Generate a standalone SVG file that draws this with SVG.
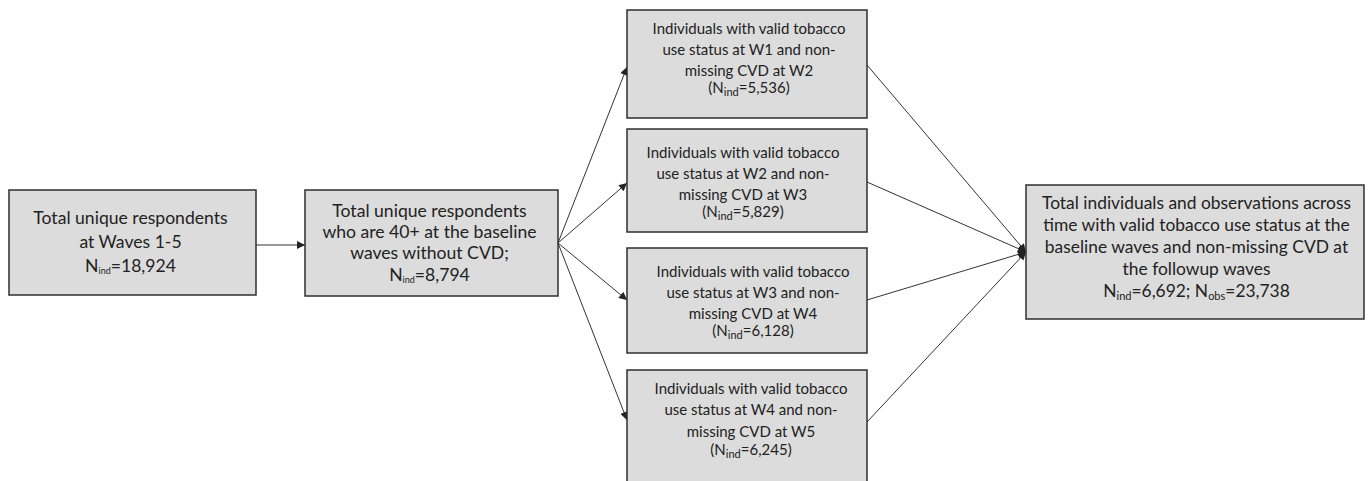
<svg xmlns="http://www.w3.org/2000/svg" width="1368" height="481" viewBox="0 0 1368 481">
<defs>
<style>
.box{fill:#dcdcdc;stroke:#2f2f2f;stroke-width:1.5}
.t{font-family:Lato,"Liberation Sans",sans-serif;fill:#222;text-anchor:middle}
.big{font-size:17.6px}
.sm{font-size:15px}
.lg{font-size:17.4px}
.sub{font-size:9px}
.sub2{font-size:11px}
.ln{stroke:#333;stroke-width:1;fill:none;marker-end:url(#ah)}
</style>
<marker id="ah" viewBox="0 0 10 10" refX="10" refY="5" markerWidth="9" markerHeight="8" markerUnits="userSpaceOnUse" orient="auto">
<path d="M0,0 L10,5 L0,10 z" fill="#222"/>
</marker>
</defs>
<rect width="1368" height="481" fill="#fff"/>
<g id="connectors">
<line class="ln" x1="256" y1="245" x2="305" y2="245"/>
<line class="ln" x1="558" y1="243" x2="627" y2="67"/>
<line class="ln" x1="558" y1="243" x2="627" y2="183"/>
<line class="ln" x1="558" y1="243" x2="627" y2="300"/>
<line class="ln" x1="558" y1="243" x2="627" y2="420"/>
<line class="ln" x1="867" y1="65" x2="1026" y2="252"/>
<line class="ln" x1="867" y1="182" x2="1026" y2="252"/>
<line class="ln" x1="867" y1="300" x2="1026" y2="252"/>
<line class="ln" x1="867" y1="422" x2="1026" y2="252"/>
</g>
<g id="n1">
<rect class="box" x="9" y="190" width="247" height="105"/>
<text class="t big" x="130.5" y="224">Total unique respondents</text>
<text class="t big" x="130.5" y="248">at Waves 1-5</text>
<text class="t big" x="130.5" y="272">N<tspan class="sub" dy="2">ind</tspan><tspan dy="-2">=18,924</tspan></text>
</g>
<g id="n2">
<rect class="box" x="305" y="190" width="253" height="106"/>
<text class="t big" x="429.5" y="217">Total unique respondents</text>
<text class="t big" x="429.5" y="238">who are 40+ at the baseline</text>
<text class="t big" x="429.5" y="259">waves without CVD;</text>
<text class="t big" x="429.5" y="281">N<tspan class="sub" dy="2">ind</tspan><tspan dy="-2">=8,794</tspan></text>
</g>
<g id="n3">
<rect class="box" x="627" y="10" width="240" height="108"/>
<text class="t sm" x="749" y="34">Individuals with valid tobacco</text>
<text class="t sm" x="749" y="55">use status at W1 and non-</text>
<text class="t sm" x="749" y="76">missing CVD at W2</text>
<text class="t sm" x="749" y="93">(N<tspan class="sub2" dy="3">ind</tspan><tspan dy="-3">=5,536)</tspan></text>
</g>
<g id="n4">
<rect class="box" x="627" y="129" width="240" height="103"/>
<text class="t sm" x="743" y="158">Individuals with valid tobacco</text>
<text class="t sm" x="743" y="179">use status at W2 and non-</text>
<text class="t sm" x="743" y="200">missing CVD at W3</text>
<text class="t sm" x="743" y="217">(N<tspan class="sub2" dy="3">ind</tspan><tspan dy="-3">=5,829)</tspan></text>
</g>
<g id="n5">
<rect class="box" x="627" y="248" width="240" height="105"/>
<text class="t sm" x="753" y="277">Individuals with valid tobacco</text>
<text class="t sm" x="753" y="298">use status at W3 and non-</text>
<text class="t sm" x="753" y="319">missing CVD at W4</text>
<text class="t sm" x="753" y="336">(N<tspan class="sub2" dy="3">ind</tspan><tspan dy="-3">=6,128)</tspan></text>
</g>
<g id="n6">
<rect class="box" x="627" y="370" width="240" height="130"/>
<text class="t sm" x="751" y="394">Individuals with valid tobacco</text>
<text class="t sm" x="751" y="415">use status at W4 and non-</text>
<text class="t sm" x="751" y="437">missing CVD at W5</text>
<text class="t sm" x="751" y="455">(N<tspan class="sub2" dy="3">ind</tspan><tspan dy="-3">=6,245)</tspan></text>
</g>
<g id="n7">
<rect class="box" x="1026" y="185" width="338" height="134"/>
<text class="t lg" x="1196.5" y="209">Total individuals and observations across</text>
<text class="t lg" x="1196.5" y="231">time with valid tobacco use status at the</text>
<text class="t lg" x="1196.5" y="253">baseline waves and non-missing CVD at</text>
<text class="t lg" x="1196.5" y="275">the followup waves</text>
<text class="t lg" x="1196.5" y="297">N<tspan class="sub2" dy="3">ind</tspan><tspan dy="-3">=6,692; N</tspan><tspan class="sub2" dy="3">obs</tspan><tspan dy="-3">=23,738</tspan></text>
</g>
</svg>
